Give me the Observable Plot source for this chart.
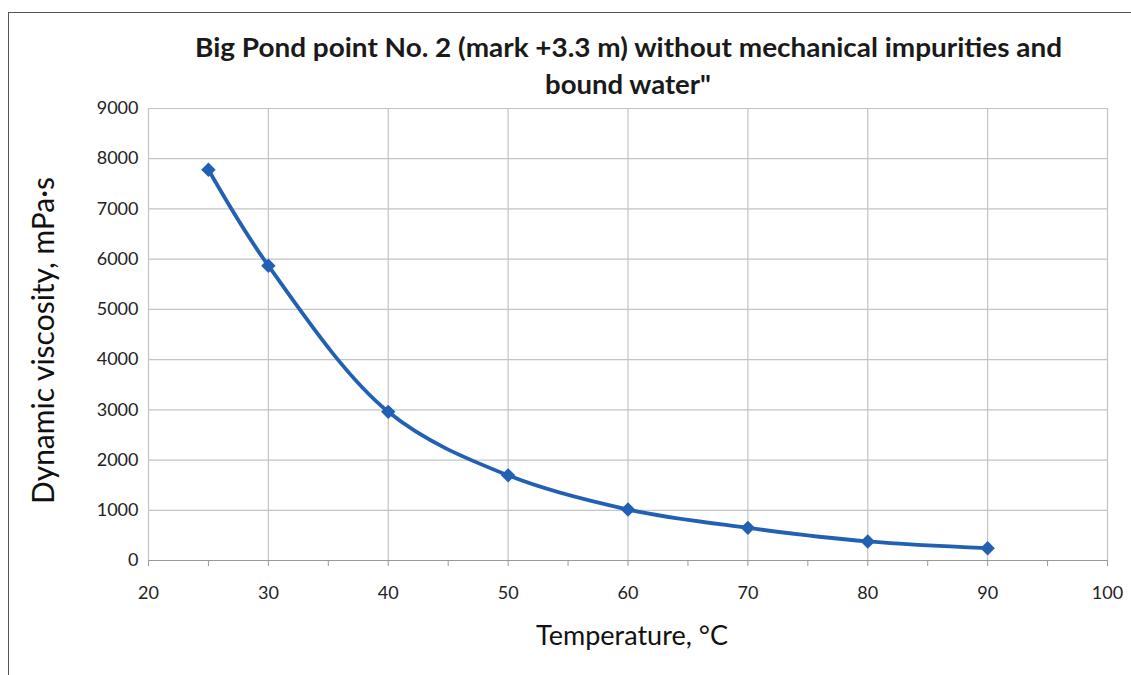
<!DOCTYPE html>
<html><head><meta charset="utf-8">
<script src="https://cdn.jsdelivr.net/npm/d3@7"></script>
<script src="https://cdn.jsdelivr.net/npm/@observablehq/plot@0.6"></script>
<style>
body{margin:0;background:#fff;font-family:Lato,"Open Sans",sans-serif;}
#wrap{position:relative;width:1131px;height:675px;overflow:hidden;}
#frame{position:absolute;left:8px;top:12px;width:1140px;height:700px;border:1.5px solid #555;box-sizing:border-box;}
.t{position:absolute;font-weight:bold;font-size:26px;line-height:30px;color:#1a1a1a;white-space:nowrap;}
#chart{position:absolute;left:0;top:0;}
</style></head>
<body><div id="wrap"><div id="frame"></div><div id="chart"></div>
<div class="t" id="t1" style="top:32px;">Big Pond point No. 2 (mark +3.3 m) without mechanical impurities and</div>
<div class="t" id="t2" style="top:69px;">bound water"</div>
</div>
<script>
const temperature = [25, 30, 40, 50, 60, 70, 80, 90];
const viscosity = [7780, 5870, 2960, 1695, 1015, 650, 380, 245];
const xTicks = [20, 30, 40, 50, 60, 70, 80, 90, 100];
const xMinorTicks = [20, 25, 30, 35, 40, 45, 50, 55, 60, 65, 70, 75, 80, 85, 90, 95, 100];
const yTicks = [0, 1000, 2000, 3000, 4000, 5000, 6000, 7000, 8000, 9000];
const xLabel = "Temperature, °C";
const yLabel = "Dynamic viscosity, mPa·s";

const data = temperature.map((t, i) => ({t, v: viscosity[i]}));
const blue = "#2260b4";
const grid = "#c4c4c4";

const plot = Plot.plot({
  width: 1131, height: 675,
  marginLeft: 148, marginRight: 24, marginTop: 108, marginBottom: 115,
  style: {fontFamily: "Lato, 'Open Sans', sans-serif", fontSize: "18px", color: "#222", background: "transparent"},
  x: {domain: [20, 100]},
  y: {domain: [0, 9000]},
  marks: [
    Plot.gridX(xTicks, {stroke: grid, strokeOpacity: 1, strokeWidth: 1.2}),
    Plot.gridY(yTicks, {stroke: grid, strokeOpacity: 1, strokeWidth: 1.2}),
    Plot.ruleY([0], {stroke: "#9a9a9a", strokeWidth: 1.2}),
    Plot.axisX(xMinorTicks, {tickSize: 6, tickPadding: 20, stroke: "#9a9a9a", tickFormat: d => d % 10 === 0 ? String(d) : "", fontSize: 18, label: null}),
    Plot.axisY(yTicks, {tickSize: 0, tickPadding: 10, fontSize: 18, tickFormat: d => String(d), label: null}),
    Plot.line(data, {x: "t", y: "v", stroke: blue, strokeWidth: 3.8, curve: "catmull-rom"}),
    Plot.dot(data, {x: "t", y: "v", symbol: "diamond2", fill: blue, r: 6.5}),
    Plot.text([xLabel], {frameAnchor: "bottom", dx: 4, dy: 84, fontSize: 27, fill: "#111"}),
    Plot.text([yLabel], {frameAnchor: "left", textAnchor: "middle", dx: -104, dy: 6, rotate: -90, fontSize: 30, fill: "#111"})
  ]
});
document.getElementById("chart").appendChild(plot);

function fit(el, left, right) {
  const w = el.getBoundingClientRect().width;
  const s = (right - left) / w;
  el.style.left = left + "px";
  el.style.transformOrigin = "0 0";
  el.style.transform = `scaleX(${s})`;
}
fit(document.getElementById("t1"), 195, 1062);
fit(document.getElementById("t2"), 545, 711);
</script>
</body></html>
